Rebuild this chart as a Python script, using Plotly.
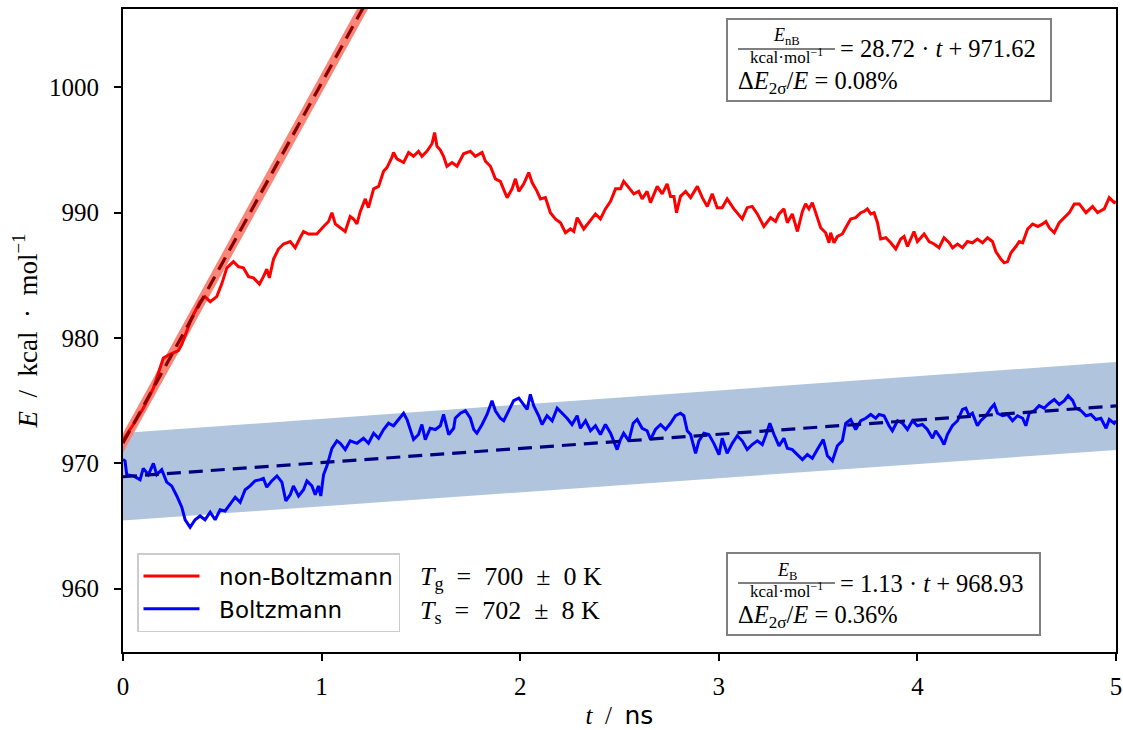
import plotly.graph_objects as go

# ---------------- data ----------------
red_t = [0.000, 0.010, 0.052, 0.102, 0.153, 0.203, 0.237, 0.279, 0.296, 0.321, 0.346, 0.388, 0.413, 0.439,
         0.472, 0.497, 0.523, 0.556, 0.581, 0.606, 0.632, 0.657, 0.687, 0.707, 0.724, 0.737, 0.758, 0.783,
         0.808, 0.842, 0.867, 0.892, 0.909, 0.934, 0.976, 1.010, 1.035, 1.052, 1.069, 1.094, 1.119, 1.144,
         1.161, 1.178, 1.195, 1.220, 1.236, 1.262, 1.287, 1.312, 1.329, 1.354, 1.362, 1.379, 1.413, 1.438,
         1.463, 1.488, 1.505, 1.530, 1.556, 1.569, 1.581, 1.598, 1.614, 1.631, 1.657, 1.682, 1.715, 1.749,
         1.774, 1.808, 1.825, 1.850, 1.875, 1.900, 1.934, 1.959, 1.976, 1.993, 2.018, 2.043, 2.060, 2.085,
         2.102, 2.127, 2.152, 2.177, 2.203, 2.228, 2.253, 2.270, 2.287, 2.320, 2.345, 2.379, 2.404, 2.429,
         2.455, 2.480, 2.505, 2.521, 2.547, 2.572, 2.597, 2.614, 2.639, 2.656, 2.690, 2.715, 2.740, 2.757,
         2.774, 2.787, 2.807, 2.833, 2.858, 2.892, 2.917, 2.942, 2.967, 2.992, 3.017, 3.042, 3.076, 3.118,
         3.143, 3.168, 3.194, 3.227, 3.261, 3.286, 3.303, 3.328, 3.345, 3.370, 3.396, 3.421, 3.437, 3.454,
         3.471, 3.496, 3.513, 3.538, 3.555, 3.563, 3.580, 3.597, 3.622, 3.639, 3.664, 3.689, 3.715, 3.731,
         3.748, 3.765, 3.782, 3.799, 3.815, 3.841, 3.866, 3.891, 3.916, 3.933, 3.950, 3.983, 4.000, 4.034,
         4.059, 4.084, 4.109, 4.134, 4.160, 4.177, 4.202, 4.227, 4.252, 4.277, 4.302, 4.328, 4.353, 4.378,
         4.395, 4.420, 4.437, 4.454, 4.471, 4.496, 4.513, 4.530, 4.555, 4.580, 4.606, 4.631, 4.647, 4.664,
         4.689, 4.714, 4.740, 4.765, 4.790, 4.815, 4.849, 4.882, 4.907, 4.941, 4.966, 4.991, 5.000]
red_E = [971.6, 972.1, 973.1, 974.4, 976.0, 978.4, 978.7, 979.0, 979.5, 980.6, 981.6, 982.9, 983.3, 982.9,
         983.3, 984.3, 985.6, 986.1, 985.7, 985.6, 984.9, 984.8, 984.3, 984.9, 985.5, 984.8, 986.3, 987.1,
         987.5, 987.7, 987.2, 988.0, 988.5, 988.3, 988.3, 988.9, 989.3, 990.0, 989.1, 988.8, 988.5, 989.7,
         989.5, 989.1, 990.1, 991.1, 990.4, 991.9, 992.1, 993.3, 993.6, 994.4, 994.8, 994.3, 994.0, 994.8,
         994.5, 994.9, 994.5, 994.9, 995.5, 996.4, 995.3, 995.0, 994.5, 993.7, 994.0, 993.7, 994.7, 994.9,
         994.5, 994.8, 994.1, 993.7, 992.7, 992.5, 991.2, 991.9, 992.7, 991.7, 992.3, 993.2, 992.4, 991.7,
         991.1, 991.2, 990.0, 989.5, 989.2, 988.4, 988.7, 988.5, 989.6, 988.7, 989.2, 989.9, 989.5, 990.3,
         990.9, 991.9, 991.9, 992.5, 992.0, 991.5, 991.7, 991.1, 991.7, 990.8, 992.1, 991.5, 992.3, 991.3,
         991.3, 990.0, 991.3, 991.7, 991.2, 992.1, 991.2, 990.5, 991.5, 990.4, 990.4, 991.1, 990.3, 989.5,
         990.4, 990.5, 989.9, 988.9, 989.6, 989.3, 989.9, 990.3, 989.2, 989.9, 988.5, 990.1, 990.7, 990.3,
         990.8, 989.7, 988.8, 988.4, 987.6, 988.4, 987.6, 988.1, 988.3, 988.8, 989.5, 989.6, 990.0, 990.1,
         990.3, 989.9, 990.0, 989.2, 987.9, 988.0, 987.6, 987.1, 987.9, 988.1, 987.3, 988.5, 987.7, 988.3,
         987.7, 987.5, 987.2, 988.0, 987.6, 987.2, 987.5, 987.2, 987.7, 987.6, 987.9, 987.6, 988.0, 987.7,
         986.9, 986.3, 986.0, 986.1, 986.8, 987.3, 987.7, 987.6, 988.7, 989.1, 988.9, 989.1, 989.3, 988.8,
         988.4, 989.2, 989.6, 990.0, 990.7, 990.7, 990.0, 990.5, 990.0, 990.3, 991.2, 990.8, 990.9]

blue_t = [0.000, 0.010, 0.019, 0.052, 0.086, 0.102, 0.128, 0.153, 0.170, 0.195, 0.220, 0.245, 0.271, 0.296,
          0.313, 0.338, 0.363, 0.388, 0.413, 0.439, 0.464, 0.489, 0.514, 0.539, 0.565, 0.590, 0.615, 0.640,
          0.665, 0.691, 0.707, 0.724, 0.749, 0.775, 0.800, 0.820, 0.842, 0.858, 0.884, 0.909, 0.926, 0.951,
          0.968, 0.984, 0.996, 1.010, 1.027, 1.052, 1.077, 1.094, 1.119, 1.144, 1.178, 1.211, 1.236, 1.262,
          1.287, 1.312, 1.337, 1.362, 1.388, 1.413, 1.430, 1.447, 1.463, 1.488, 1.505, 1.522, 1.547, 1.573,
          1.598, 1.614, 1.640, 1.665, 1.673, 1.699, 1.724, 1.749, 1.766, 1.782, 1.808, 1.833, 1.858, 1.875,
          1.900, 1.917, 1.942, 1.967, 1.993, 2.018, 2.035, 2.051, 2.068, 2.093, 2.110, 2.135, 2.161, 2.186,
          2.211, 2.236, 2.261, 2.287, 2.303, 2.329, 2.354, 2.379, 2.404, 2.429, 2.455, 2.471, 2.488, 2.505,
          2.521, 2.547, 2.569, 2.589, 2.614, 2.639, 2.656, 2.681, 2.707, 2.732, 2.757, 2.782, 2.807, 2.824,
          2.841, 2.858, 2.883, 2.900, 2.925, 2.950, 2.975, 3.001, 3.017, 3.042, 3.068, 3.093, 3.118, 3.143,
          3.168, 3.194, 3.219, 3.236, 3.257, 3.278, 3.303, 3.328, 3.345, 3.370, 3.396, 3.421, 3.446, 3.471,
          3.496, 3.526, 3.547, 3.572, 3.597, 3.622, 3.639, 3.664, 3.689, 3.715, 3.740, 3.765, 3.790, 3.807,
          3.832, 3.857, 3.874, 3.900, 3.925, 3.950, 3.975, 4.000, 4.025, 4.050, 4.076, 4.092, 4.118, 4.134,
          4.151, 4.176, 4.202, 4.227, 4.244, 4.260, 4.277, 4.302, 4.319, 4.345, 4.370, 4.387, 4.403, 4.429,
          4.454, 4.479, 4.504, 4.530, 4.546, 4.563, 4.588, 4.613, 4.638, 4.664, 4.689, 4.714, 4.740, 4.759,
          4.782, 4.798, 4.824, 4.849, 4.874, 4.899, 4.924, 4.950, 4.966, 4.991, 5.000]
blue_E = [970.3, 970.2, 969.1, 969.0, 968.7, 969.6, 969.1, 970.0, 969.1, 969.5, 968.5, 968.2, 967.4, 966.5,
          965.5, 964.9, 965.5, 965.8, 965.5, 966.1, 965.5, 966.3, 966.2, 966.7, 967.3, 966.9, 967.9, 968.2,
          968.6, 968.7, 968.8, 968.1, 968.6, 969.0, 968.5, 967.0, 967.5, 968.2, 967.4, 967.9, 968.6, 968.2,
          967.5, 968.2, 967.4, 969.1, 969.8, 971.2, 971.8, 971.6, 971.1, 971.8, 971.6, 972.0, 971.6, 972.4,
          972.0, 972.7, 973.2, 973.0, 973.5, 974.0, 973.5, 972.7, 971.9, 972.3, 973.1, 971.9, 972.8, 972.7,
          973.0, 973.9, 972.3, 972.8, 973.6, 974.0, 974.2, 973.6, 972.7, 972.4, 973.1, 973.9, 975.0, 974.2,
          973.6, 973.4, 974.2, 975.0, 975.2, 974.7, 974.3, 975.5, 974.6, 973.8, 973.1, 973.8, 973.4, 974.4,
          974.0, 973.6, 973.1, 973.8, 972.8, 973.4, 972.6, 973.0, 972.3, 973.1, 972.4, 971.8, 971.1, 971.9,
          972.4, 971.8, 973.2, 973.5, 972.8, 972.6, 971.9, 972.7, 973.1, 972.7, 973.2, 973.8, 974.0, 973.8,
          972.6, 972.3, 970.8, 971.8, 972.4, 972.3, 971.6, 970.7, 972.0, 970.8, 971.6, 972.2, 971.8, 971.1,
          971.5, 971.8, 971.5, 972.2, 973.2, 972.3, 971.4, 972.0, 971.2, 971.1, 970.7, 970.3, 970.7, 970.4,
          971.1, 971.9, 970.6, 970.2, 971.4, 971.8, 973.2, 973.5, 972.7, 973.4, 973.6, 973.9, 973.6, 973.9,
          973.8, 973.0, 972.6, 973.4, 973.2, 972.7, 973.4, 973.0, 973.1, 972.7, 972.0, 972.6, 972.0, 971.5,
          972.3, 973.0, 973.4, 974.3, 974.4, 973.8, 974.0, 973.0, 973.4, 973.8, 974.4, 974.7, 974.0, 973.8,
          973.9, 973.4, 973.8, 973.6, 973.0, 974.0, 974.2, 974.6, 974.4, 974.8, 975.1, 974.7, 975.0, 975.4,
          975.0, 974.4, 974.2, 973.8, 973.9, 973.5, 973.6, 972.8, 973.5, 973.2, 973.4]

# linear fits  E = slope * t + intercept, with relative 2-sigma band
fit_names = ["nB", "B"]
fit_slope = [28.72, 1.13]
fit_intercept = [971.62, 968.93]
fit_rel_err = [0.0008, 0.0036]
fit_t = [0.0, 5.0]

x_ticks = [0, 1, 2, 3, 4, 5]
y_ticks = [960, 970, 980, 990, 1000]
x_range = [0, 5]
y_range = [954.95, 1006.25]

T_gas = (700, 0)
T_sys = (702, 8)

# ---------------- figure ----------------
W, H = 1123, 730
ML, MR, MT, MB = 123, 7, 9, 78
PW, PH = W - ML - MR, H - MT - MB
EN = "\u2002"
TS = "\u2005"
NB = "\u00a0"


def px(x):
    return (x - ML) / PW


def py(y):
    return (H - MB - y) / PH


SERIF = "Liberation Serif, DejaVu Serif, serif"
SANS = "DejaVu Sans, sans-serif"

fig = go.Figure()


def fit_line(i, t):
    return [fit_slope[i] * v + fit_intercept[i] for v in t]


band_colors = ["rgba(250,128,114,0.95)", "#b0c4de"]
line_colors = ["#8b0000", "#000080"]

# bands (blue first, then red)
for i in [1, 0]:
    centre = fit_line(i, fit_t)
    lo = [c * (1 - fit_rel_err[i]) for c in centre]
    hi = [c * (1 + fit_rel_err[i]) for c in centre]
    fig.add_trace(go.Scatter(x=fit_t, y=lo, mode="lines", line=dict(width=0, color=band_colors[i]),
                             showlegend=False, hoverinfo="skip"))
    fig.add_trace(go.Scatter(x=fit_t, y=hi, mode="lines", line=dict(width=0, color=band_colors[i]),
                             fill="tonexty", fillcolor=band_colors[i], showlegend=False, hoverinfo="skip"))

fig.add_trace(go.Scatter(x=red_t, y=red_E, mode="lines", name=NB * 2 + "non-Boltzmann",
                         legendgroup="a", line=dict(color="#ff0000", width=3)))
fig.add_trace(go.Scatter(x=blue_t, y=blue_E, mode="lines", name=NB * 2 + "Boltzmann",
                         legendgroup="b", line=dict(color="#0000ff", width=3)))

for i in [0, 1]:
    fig.add_trace(go.Scatter(x=fit_t, y=fit_line(i, fit_t), mode="lines",
                             line=dict(color=line_colors[i], width=3.2, dash="14px,8px"),
                             showlegend=False, hoverinfo="skip"))

axis_common = dict(showline=True, linecolor="black", linewidth=1.8, mirror=True,
                   ticks="outside", ticklen=7, tickwidth=1.6, tickcolor="black",
                   showgrid=False, zeroline=False, automargin=False,
                   tickfont=dict(family=SERIF, size=25, color="black"))

fig.update_xaxes(range=x_range, tickvals=x_ticks, ticktext=[str(v) for v in x_ticks],
                 ticklabelstandoff=4,
                 title=dict(text="<i>t</i>" + EN + "/" + EN + "<span style='font-family:DejaVu Sans'>ns</span>",
                            font=dict(family=SERIF, size=25, color="black"), standoff=12),
                 **axis_common)
fig.update_yaxes(range=y_range, tickvals=y_ticks, ticktext=[str(v) for v in y_ticks],
                 ticklabelstandoff=10,
                 title=dict(text="<i>E</i>" + EN + "/" + EN + "kcal" + EN + "·" + EN + "mol<sup>−1</sup>",
                            font=dict(family=SERIF, size=27, color="black"), standoff=4),
                 **axis_common)

annotations = []
shapes = []

# temperature labels
for lab, (val, err), yy in [("g", T_gas, 578), ("s", T_sys, 612)]:
    annotations.append(dict(x=px(418), y=py(yy), xref="paper", yref="paper", xanchor="left",
                            yanchor="middle", showarrow=False,
                            font=dict(family=SERIF, size=26, color="black"),
                            text=f"<i>T</i><sub>{lab}</sub>{EN}={EN}{val}{EN}±{EN}{err}{NB}K"))


def fit_box(i, x0, y0, x1, y1, num_text):
    shapes.append(dict(type="rect", xref="paper", yref="paper", x0=px(x0), x1=px(x1), y0=py(y0), y1=py(y1),
                       line=dict(color="#808080", width=2), fillcolor="white", layer="above"))
    bar_y = y0 + 30
    shapes.append(dict(type="line", xref="paper", yref="paper", x0=px(738), x1=px(835),
                       y0=py(bar_y), y1=py(bar_y), line=dict(color="black", width=1), layer="above"))
    annotations.append(dict(x=px(786.5), y=py(bar_y - 12), xref="paper", yref="paper", xanchor="center",
                            yanchor="middle", showarrow=False, borderpad=0,
                            font=dict(family=SERIF, size=18, color="black"), text=num_text))
    annotations.append(dict(x=px(786.5), y=py(bar_y + 7), xref="paper", yref="paper", xanchor="center",
                            yanchor="middle", showarrow=False, borderpad=0,
                            font=dict(family=SERIF, size=17, color="black"),
                            text="kcal·mol<sup>−1</sup>"))
    annotations.append(dict(x=px(839), y=py(bar_y), xref="paper", yref="paper", xanchor="left",
                            yanchor="middle", showarrow=False, borderpad=0,
                            font=dict(family=SERIF, size=24.5, color="black"),
                            text=f"={TS}{fit_slope[i]:.2f}{TS}·{TS}<i>t</i>{TS}+{TS}{fit_intercept[i]:.2f}"))
    annotations.append(dict(x=px(737), y=py(bar_y + 33), xref="paper", yref="paper", xanchor="left",
                            yanchor="middle", showarrow=False, borderpad=0,
                            font=dict(family=SERIF, size=24.5, color="black"),
                            text=f"Δ<i>E</i><sub>2σ</sub>/<i>E</i>{TS}={TS}{fit_rel_err[i] * 100:.2f}%"))


fit_box(0, 727, 19, 1051, 101, "<i>E</i><sub>nB</sub>")
fit_box(1, 727, 553, 1040, 635, "<i>E</i><sub>B</sub>")

fig.update_layout(
    width=W, height=H,
    margin=dict(l=ML, r=MR, t=MT, b=MB, autoexpand=False),
    paper_bgcolor="white", plot_bgcolor="white",
    showlegend=True,
    legend=dict(x=px(137), y=py(553), xanchor="left", yanchor="top",
                bgcolor="white", bordercolor="#cccccc", borderwidth=1.5,
                font=dict(family=SANS, size=23, color="black"),
                traceorder="normal", itemwidth=56, tracegroupgap=10),
    annotations=annotations,
    shapes=shapes,
)

fig.write_html("out.html")
